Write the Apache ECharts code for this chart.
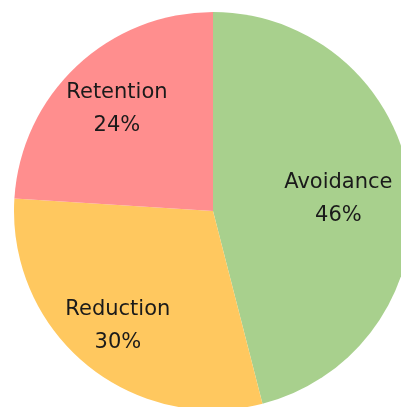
<!DOCTYPE html>
<html>
<head>
<meta charset="utf-8">
<script src="https://cdn.jsdelivr.net/npm/echarts@6/dist/echarts.min.js"></script>
<style>
  html, body { margin: 0; padding: 0; background: #fff; }
  #chart { width: 401px; height: 407px; }
</style>
</head>
<body>
<div id="chart"></div>
<script>
// Risk treatment strategies, share of responses (%)
const categories = ['Avoidance', 'Reduction', 'Retention'];
const shares = [46, 30, 24];
const colors = ['#a8d08d', '#ffc85f', '#ff8e8e'];
// how far out along each slice its label sits (fraction of the radius)
const labelDepth = [0.62, 0.735, 0.69];

const R = 199;
const total = shares.reduce((a, b) => a + b, 0);
// mid-angle of each slice, measured clockwise from 12 o'clock
const midAngles = [];
let acc = 0;
shares.forEach(v => {
  midAngles.push((acc + v / 2) / total * 2 * Math.PI);
  acc += v;
});

const chart = echarts.init(document.getElementById('chart'), null, { renderer: 'canvas' });
chart.setOption({
  animation: false,
  series: [{
    type: 'pie',
    center: [213, 211],
    radius: R,
    startAngle: 90,
    clockwise: true,
    data: categories.map((name, i) => ({
      name,
      value: shares[i],
      itemStyle: { color: colors[i] }
    })),
    itemStyle: { borderWidth: 0 },
    label: {
      show: true,
      position: 'inside',
      formatter: '{b}\n{c}%',
      fontFamily: 'DejaVu Sans',
      fontSize: 21,
      lineHeight: 33,
      color: '#1a1a1a',
      align: 'center'
    },
    labelLine: { show: false },
    labelLayout: function (p) {
      const i = p.dataIndex;
      const shift = (labelDepth[i] - 0.5) * R;
      return {
        dx: shift * Math.sin(midAngles[i]),
        dy: -shift * Math.cos(midAngles[i]) + (i === 0 ? 4 : 0)
      };
    },
    emphasis: { disabled: true }
  }]
});
</script>
</body>
</html>
